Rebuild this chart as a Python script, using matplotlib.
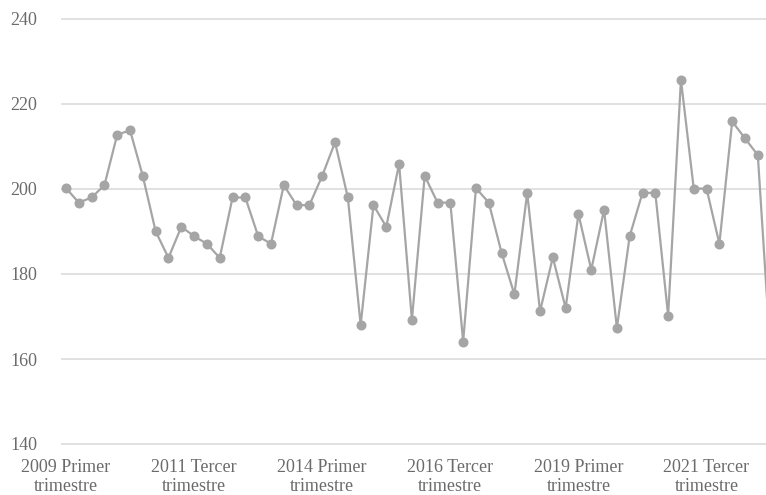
import matplotlib
matplotlib.use('Agg')
import matplotlib.pyplot as plt

# Quarterly series, 2009 Q1 .. 2022 Q4
years = list(range(2009, 2023))
quarter_names = ['Primer', 'Segundo', 'Tercer', 'Cuarto']

values = [
    200.2, 196.8, 198.0, 200.9, 212.8, 213.8, 203.0, 190.0, 183.8, 191.1,
    188.9, 187.1, 183.8, 198.0, 198.0, 188.9, 187.1, 200.9, 196.2, 196.2,
    203.1, 211.0, 198.0, 168.0, 196.2, 191.1, 205.9, 169.2, 203.1, 196.8,
    196.8, 164.1, 200.2, 196.8, 185.0, 175.2, 199.1, 171.2, 183.9, 172.0,
    194.1, 181.0, 195.1, 167.3, 188.9, 199.1, 199.1, 170.2, 225.7, 200.1,
    200.1, 187.1, 215.9, 211.9, 208.0, 161.0,
]

y_ticks = [140, 160, 180, 200, 220, 240]
label_step = 10

LINE_COLOR = '#a5a5a5'
GRID_COLOR = '#d9d9d9'
TEXT_COLOR = '#6b6b6b'


def quarter_labels():
    """Build 'YYYY Nombre\ntrimestre' labels for every quarter."""
    labels = []
    for y in years:
        for q in quarter_names:
            labels.append(f'{y} {q}\ntrimestre')
    return labels


def main():
    plt.rcParams['font.family'] = ['Liberation Serif', 'DejaVu Serif']

    fig = plt.figure(figsize=(7.66, 4.95), dpi=100)
    px = 4.25  # pixels per unit on the y axis
    pad = 0.6
    ax = fig.add_axes([61 / 766, (51 - pad * px) / 495,
                       705 / 766, (425 + 2 * pad * px) / 495])

    x = list(range(len(values)))
    ax.plot(x, values, color=LINE_COLOR, linewidth=1.6,
            marker='o', markersize=6.2, markerfacecolor=LINE_COLOR,
            markeredgecolor=LINE_COLOR, zorder=3)

    ax.set_xlim(-0.39, 54.64)
    ax.set_ylim(140 - pad, 240 + pad)

    labels = quarter_labels()
    ticks = x[::label_step][:6]
    ax.set_xticks(ticks)
    ax.set_xticklabels([labels[i] for i in ticks], fontsize=13,
                       color=TEXT_COLOR, linespacing=1.15)
    ax.set_yticks(y_ticks)
    ax.set_yticklabels([str(v) for v in y_ticks], fontsize=13,
                       color=TEXT_COLOR)

    ax.tick_params(axis='both', length=0)
    ax.tick_params(axis='y', pad=17)
    ax.tick_params(axis='x', pad=9)

    for s in ax.spines.values():
        s.set_visible(False)
    ax.grid(True, axis='y', color=GRID_COLOR, linewidth=1.1)
    ax.set_axisbelow(True)

    fig.savefig('out.png', dpi=100, facecolor='white')


if __name__ == '__main__':
    main()
